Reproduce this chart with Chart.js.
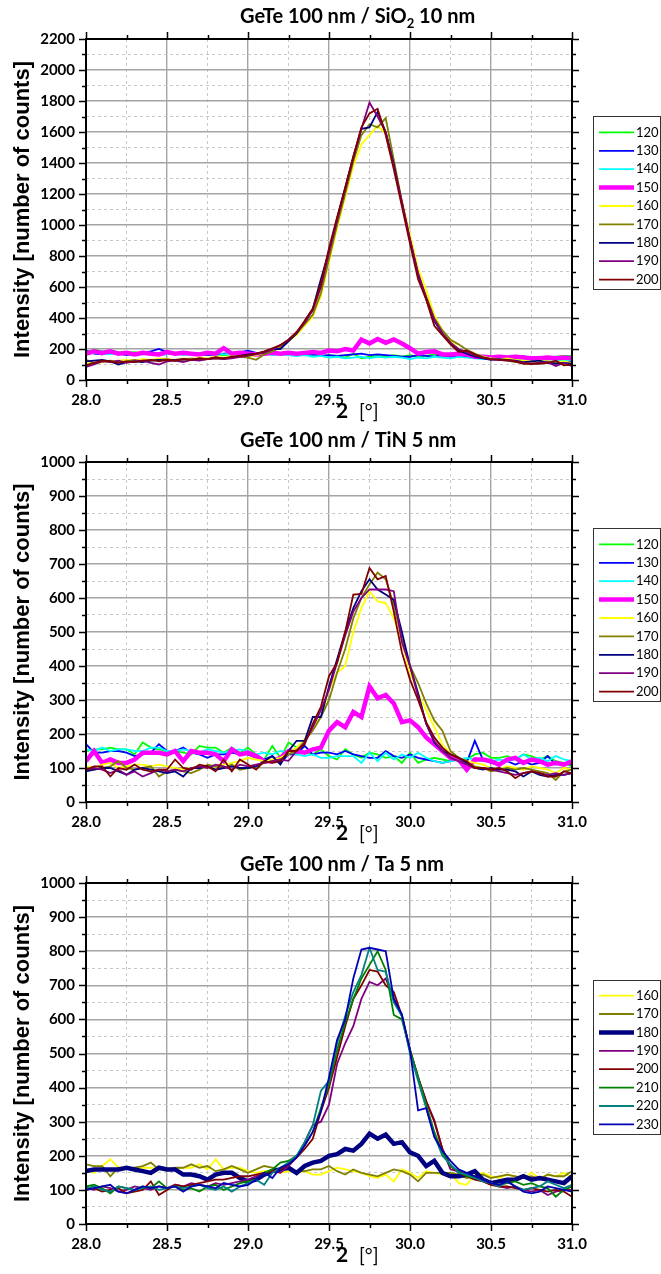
<!DOCTYPE html>
<html>
<head>
<meta charset="utf-8">
<script src="https://cdn.jsdelivr.net/npm/chart.js@4.4.1/dist/chart.umd.min.js"></script>
<style>
  body { margin: 0; background: #fff; }
  #wrap { position: relative; width: 661px; height: 1274px; overflow: hidden; }
  #wrap canvas { position: absolute; left: 0; }
</style>
</head>
<body>
<div id="wrap">
  <canvas id="c1" width="661" height="440" style="top:0px"></canvas>
  <canvas id="c2" width="661" height="440" style="top:425px"></canvas>
  <canvas id="c3" width="661" height="424" style="top:850px"></canvas>
</div>
<script>
// 2theta positions (deg)
var twoTheta = [28.00,28.05,28.10,28.15,28.20,28.25,28.30,28.35,28.40,28.45,
  28.50,28.55,28.60,28.65,28.70,28.75,28.80,28.85,28.90,28.95,
  29.00,29.05,29.10,29.15,29.20,29.25,29.30,29.35,29.40,29.45,
  29.50,29.55,29.60,29.65,29.70,29.75,29.80,29.85,29.90,29.95,
  30.00,30.05,30.10,30.15,30.20,30.25,30.30,30.35,30.40,30.45,
  30.50,30.55,30.60,30.65,30.70,30.75,30.80,30.85,30.90,30.95,
  31.00];

// --- GeTe 100 nm / SiO2 10 nm ---
var sio2Labels = ['120','130','140','150','160','170','180','190','200'];
var sio2_120 = [180,195,185,190,180,175,180,170,175,165, 170,175,165,170,165,160,165,160,165,160,
  165,160,170,175,165,170,160,165,160,155, 160,150,145,170,140,150,155,150,160,150,
  160,150,155,165,155,160,150,155,145,150, 145,150,140,145,150,145,150,145,150,155, 155];
var sio2_130 = [190,170,165,175,170,160,170,175,185,200, 180,170,175,165,170,160,165,170,175,180,
  190,175,165,170,175,170,165,160,165,155, 160,155,160,165,170,160,165,160,155,150,
  150,160,155,150,160,150,155,150,145,140, 140,135,140,130,155,130,125,120,115,125, 120];
var sio2_140 = [165,175,170,165,175,170,160,165,170,160, 165,170,160,165,170,165,175,165,170,165,
  160,165,170,160,165,160,155,160,150,155, 145,150,140,145,150,140,150,145,150,145,
  135,145,140,150,145,140,150,145,140,135, 140,135,140,135,130,135,140,135,130,125, 130];
var sio2_150 = [170,185,175,185,170,175,165,175,170,165, 180,170,175,170,165,175,170,205,170,175,
  170,165,170,175,170,175,170,175,180,175, 190,185,200,190,260,235,265,240,262,235,
  205,170,180,185,165,165,170,165,150,150, 145,150,145,150,145,140,140,145,140,145, 140];
var sio2_160 = [110,105,115,120,125,130,125,135,130,140, 135,130,140,135,145,140,150,145,150,155,
  150,160,175,190,215,250,290,350,410,540, 760,980,1180,1380,1520,1580,1640,1590,1400,1160,
  940,720,580,420,320,250,200,175,160,150, 140,135,140,130,125,120,125,120,115,120, 110];
var sio2_170 = [130,110,120,125,115,120,130,120,125,130, 135,125,130,140,130,135,140,135,145,150,
  145,130,165,185,210,255,300,360,420,560, 780,1000,1200,1410,1580,1650,1630,1690,1420,1150,
  900,680,540,400,320,260,230,195,170,150, 135,130,125,115,110,105,110,115,110,105, 100];
var sio2_180 = [120,125,130,120,100,115,120,115,125,130, 125,130,135,130,140,135,145,140,145,155,
  165,170,180,200,200,250,300,380,460,650, 830,1040,1240,1440,1620,1630,1730,1600,1390,1140,
  900,680,520,380,300,240,190,170,150,140, 130,135,130,125,115,120,125,110,105,110, 105];
var sio2_190 = [85,100,120,115,125,110,120,125,110,100, 120,125,115,130,125,135,140,135,140,150,
  155,165,175,195,225,260,305,370,450,600, 820,1030,1230,1430,1620,1790,1700,1600,1380,1150,
  910,690,530,390,300,240,200,180,160,145, 135,130,125,120,110,105,110,115,90,110, 90];
var sio2_200 = [95,110,125,120,110,120,115,125,130,120, 130,125,135,130,140,135,145,140,150,155,
  160,170,185,205,225,260,310,380,460,620, 850,1050,1240,1440,1630,1720,1750,1580,1360,1120,
  880,650,520,350,290,230,180,190,165,145, 135,130,130,120,105,105,105,110,125,95, 100];
var sio2Colors = ['#00FF00','#0000FF','#00FFFF','#FF00FF','#FFFF00','#808000','#000080','#800080','#800000'];

// --- GeTe 100 nm / TiN 5 nm ---
var tinLabels = ['120','130','140','150','160','170','180','190','200'];
var tin_120 = [150,155,155,160,155,155,140,175,160,155, 150,150,145,140,165,160,160,145,160,145,
  160,140,125,165,130,175,160,145,140,155, 135,125,155,140,130,145,140,130,135,115,
  145,115,125,130,125,120,125,125,140,145, 130,130,135,125,140,135,125,135,120,115, 105];
var tin_130 = [170,145,145,150,150,145,135,140,145,170, 150,150,160,145,140,130,140,140,145,140,
  140,130,125,135,115,140,140,165,140,145, 145,140,150,140,135,130,130,150,135,130,
  140,130,125,120,115,120,130,115,180,125, 115,110,120,110,120,110,115,135,110,115, 110];
var tin_140 = [155,150,160,150,155,155,150,150,160,160, 150,150,155,150,145,155,150,145,150,155,
  150,140,145,140,150,145,140,135,140,130, 130,135,135,135,115,145,120,145,125,140,
  130,145,130,120,115,120,125,130,125,120, 120,125,120,125,140,125,130,120,135,125, 120];
var tin_150 = [120,150,115,125,115,115,125,145,145,145, 140,150,120,150,145,145,140,120,155,140,
  145,135,120,120,130,150,150,145,155,160, 210,235,220,265,250,340,305,315,290,235,
  240,220,190,170,150,130,125,95,125,125, 120,110,125,130,115,125,120,110,115,110, 120];
var tin_160 = [105,100,110,115,100,105,110,110,105,110, 105,100,95,100,105,100,105,110,115,120,
  130,125,120,125,130,145,160,185,220,250, 330,380,400,500,570,620,590,585,540,470,
  380,320,270,220,170,140,130,120,115,110, 100,95,105,100,95,105,100,95,85,100, 95];
var tin_170 = [100,95,100,105,120,100,95,100,105,75, 90,95,90,85,95,110,105,100,110,95,
  100,105,115,120,125,140,150,180,210,250, 300,380,450,540,600,640,675,655,580,480,
  400,350,290,240,210,150,130,115,105,100, 90,95,100,95,100,95,90,85,65,90, 95];
var tin_180 = [90,95,100,100,90,80,95,100,95,90, 85,90,75,100,100,105,95,100,105,100,
  100,105,120,135,110,150,180,180,250,250, 340,420,500,570,620,655,625,610,595,500,
  400,320,230,175,150,140,130,115,100,95, 100,95,95,90,75,90,80,75,80,80, 85];
var tin_190 = [95,100,95,85,95,80,90,75,85,95, 90,95,90,100,105,100,110,105,95,110,
  105,110,115,120,125,121,150,175,220,270, 330,410,490,560,600,625,625,625,620,470,
  400,310,230,180,150,130,120,110,100,100, 95,90,85,80,85,90,85,80,85,80, 85];
var tin_200 = [95,105,105,75,100,95,110,95,90,95, 95,125,100,95,110,105,90,125,90,125,
  110,95,120,115,120,150,150,170,230,280, 370,410,500,610,612,688,655,665,560,440,
  360,300,235,190,160,140,130,120,100,100, 95,100,90,70,85,90,85,75,75,90, 85];
var tinColors = ['#00FF00','#0000FF','#00FFFF','#FF00FF','#FFFF00','#808000','#000080','#800080','#800000'];

// --- GeTe 100 nm / Ta 5 nm ---
var taLabels = ['160','170','180','190','200','210','220','230'];
var ta_160 = [160,150,170,190,165,165,160,165,165,160, 165,160,165,165,175,160,190,160,165,165,
  155,150,155,155,150,155,150,155,145,145, 155,165,160,155,150,140,135,145,125,160,
  150,135,155,150,145,150,120,115,145,150, 140,135,145,140,135,150,135,145,140,150, 135];
var ta_170 = [175,170,170,140,165,160,165,170,180,160, 160,165,165,175,165,170,155,160,170,160,
  150,160,170,165,160,160,155,155,160,160, 170,155,145,160,150,145,140,150,160,155,
  145,125,150,150,150,150,145,135,140,145, 135,140,145,140,135,140,130,145,140,140, 155];
var ta_180 = [155,160,160,160,160,165,160,155,150,165, 160,160,145,145,140,130,145,150,150,135,
  125,130,145,155,160,165,150,170,180,185, 200,205,220,215,235,265,250,262,235,240,
  210,200,170,185,150,140,140,145,155,130, 120,125,130,130,140,130,135,130,125,120, 140];
var ta_190 = [105,100,110,105,95,100,110,105,100,110, 105,115,110,120,115,110,120,115,120,125,
  130,140,150,155,150,170,195,240,290,300, 350,470,530,580,660,710,700,720,660,610,
  510,430,360,305,220,160,155,145,140,130, 120,110,105,110,100,95,100,85,95,100, 100];
var ta_200 = [100,105,95,100,105,90,95,100,125,85, 100,115,110,115,120,125,130,130,135,140,
  140,145,150,155,160,175,195,220,250,330, 400,490,580,660,700,745,740,700,680,610,
  510,430,360,300,220,170,150,140,130,125, 115,110,110,105,100,105,100,95,100,95, 80];
var ta_210 = [110,115,105,90,110,105,100,110,105,125, 105,110,100,105,95,110,115,100,110,120,
  125,130,150,160,180,185,200,230,270,340, 410,510,590,660,720,760,800,745,613,600,
  510,430,350,270,210,170,155,140,135,130, 120,115,120,125,115,120,110,105,80,100, 110];
var ta_220 = [105,110,100,95,110,105,100,105,110,100, 105,110,105,110,115,105,100,110,95,110,
  120,130,115,150,165,180,200,240,290,390, 420,530,610,680,730,810,745,740,650,610,
  500,420,340,260,200,175,150,145,135,125, 120,110,125,110,100,105,110,125,115,105, 115];
var ta_230 = [100,105,110,115,95,90,100,110,105,110, 105,110,95,110,115,110,105,120,115,110,
  115,130,150,135,165,175,195,230,270,330, 430,540,600,720,805,810,805,800,660,615,
  510,333,340,255,215,185,160,150,140,130, 120,115,125,110,95,90,95,110,105,100, 95];
var taColors = ['#FFFF00','#808000','#000080','#800080','#800000','#008000','#008080','#0000B4'];

Chart.defaults.font.family = 'Lato';
Chart.defaults.color = '#000';

function isMajor(v, step) {
  return Math.abs(v / step - Math.round(v / step)) < 1e-6;
}

// frame, outward ticks on all four sides, title, x label and boxed legend
var deco = {
  id: 'deco',
  afterDraw: function(chart, args, o) {
    var ctx = chart.ctx, a = chart.chartArea;
    var xs = chart.scales.x, ys = chart.scales.y;
    ctx.save();

    ctx.strokeStyle = '#000';
    ctx.lineWidth = 1.5;
    ctx.beginPath();
    xs.ticks.forEach(function(t) {
      var px = Math.round(xs.getPixelForValue(t.value)) + 0.5;
      var len = isMajor(t.value, 0.5) ? 7 : 4;
      ctx.moveTo(px, a.bottom); ctx.lineTo(px, a.bottom + len);
      ctx.moveTo(px, a.top); ctx.lineTo(px, a.top - len);
    });
    ys.ticks.forEach(function(t) {
      var py = Math.round(ys.getPixelForValue(t.value)) + 0.5;
      var len = isMajor(t.value, o.yMajor) ? 7 : 4;
      ctx.moveTo(a.left, py); ctx.lineTo(a.left - len, py);
      ctx.moveTo(a.right, py); ctx.lineTo(a.right + len, py);
    });
    ctx.stroke();
    ctx.lineWidth = 2;
    ctx.strokeRect(a.left, a.top, a.right - a.left, a.bottom - a.top);

    // title (with optional subscript part)
    ctx.fillStyle = '#000';
    ctx.textAlign = 'left';
    ctx.textBaseline = 'alphabetic';
    var tx = o.titleX;
    o.title.forEach(function(p) {
      ctx.font = p.sub ? 'bold 13px Lato' : 'bold 20px Lato';
      ctx.fillText(p.text, tx, o.titleY + (p.sub ? 5 : 0));
      tx += ctx.measureText(p.text).width;
    });

    // x axis label
    var by = a.bottom + 38;
    ctx.font = 'bold 21px Lato';
    ctx.fillText('2', 336, by);
    ctx.font = '19px Lato';
    ctx.fillText('[\u00B0]', 359, by);

    // legend box
    var ds = chart.data.datasets;
    var pitch = 18.4;
    var y0 = o.legendY - (ds.length - 1) * pitch / 2;
    ctx.lineWidth = 1;
    ctx.strokeStyle = '#333';
    ctx.strokeRect(593.5, Math.round(y0 - 16) + 0.5, 67, Math.round((ds.length - 1) * pitch + 25.5));
    ctx.font = '13px Lato';
    ctx.textBaseline = 'middle';
    ds.forEach(function(d, i) {
      var yy = y0 + i * pitch;
      ctx.strokeStyle = d.borderColor;
      ctx.lineWidth = d.borderWidth;
      ctx.beginPath();
      ctx.moveTo(599, yy); ctx.lineTo(634, yy);
      ctx.stroke();
      ctx.fillStyle = '#000';
      ctx.fillText(d.label, 636, yy);
    });
    ctx.restore();
  }
};

function makeChart(id, p) {
  var ctx = document.getElementById(id).getContext('2d');
  return new Chart(ctx, {
    type: 'line',
    data: {
      labels: twoTheta,
      datasets: p.series.map(function(s, i) {
        return {
          label: p.labels[i],
          data: s,
          borderColor: p.colors[i],
          borderWidth: p.labels[i] === p.thick ? 4.5 : 1.8,
          order: 100 - i
        };
      })
    },
    options: {
      responsive: false,
      animation: false,
      layout: { padding: { left: 0, right: 89, top: p.top, bottom: p.bottomPad } },
      elements: { point: { radius: 0 }, line: { tension: 0 } },
      plugins: {
        legend: { display: false },
        tooltip: { enabled: false },
        deco: { title: p.title, titleX: 240, titleY: p.titleY, legendY: p.legendY, yMajor: p.yMajor }
      },
      scales: {
        x: {
          type: 'linear',
          min: 28, max: 31,
          afterFit: function(s) { s.height = 45; },
          ticks: {
            stepSize: 0.25, autoSkip: false, maxRotation: 0, padding: 11,
            font: { size: 15, weight: 'bold' },
            callback: function(v) { return isMajor(v, 0.5) ? v.toFixed(1) : ''; }
          },
          grid: {
            drawTicks: false,
            lineWidth: function(c) { return isMajor(c.tick.value, 0.5) ? 1.4 : 1; },
            color: function(c) { return isMajor(c.tick.value, 0.5) ? '#a4a4a4' : '#c8c8c8'; }
          },
          border: { display: false, dash: function(c) { return isMajor(c.tick.value, 0.5) ? [] : [3, 3]; } }
        },
        y: {
          min: 0, max: p.yMax,
          afterFit: function(s) { s.width = 86; },
          ticks: {
            stepSize: p.yMajor / 2, autoSkip: false, padding: 11,
            font: { size: 15, weight: 'bold' },
            callback: function(v) { return isMajor(v, p.yMajor) ? String(v) : ''; }
          },
          grid: {
            drawTicks: false,
            lineWidth: function(c) { return isMajor(c.tick.value, p.yMajor) ? 1.4 : 1; },
            color: function(c) { return isMajor(c.tick.value, p.yMajor) ? '#a4a4a4' : '#c8c8c8'; }
          },
          border: { display: false, dash: function(c) { return isMajor(c.tick.value, p.yMajor) ? [] : [3, 3]; } },
          title: {
            display: true,
            text: 'Intensity [number of counts]',
            font: { family: 'Liberation Sans', size: 22, weight: 'bold' },
            padding: { top: 10, bottom: 0 }
          }
        }
      }
    },
    plugins: [deco]
  });
}

makeChart('c1', {
  labels: sio2Labels, colors: sio2Colors, thick: '150',
  series: [sio2_120, sio2_130, sio2_140, sio2_150, sio2_160, sio2_170, sio2_180, sio2_190, sio2_200],
  title: [{ text: 'GeTe 100 nm / SiO' }, { text: '2', sub: true }, { text: ' 10 nm' }],
  titleY: 23, top: 39, bottomPad: 15, yMax: 2200, yMajor: 200, legendY: 206
});
makeChart('c2', {
  labels: tinLabels, colors: tinColors, thick: '150',
  series: [tin_120, tin_130, tin_140, tin_150, tin_160, tin_170, tin_180, tin_190, tin_200],
  title: [{ text: 'GeTe 100 nm / TiN 5 nm' }],
  titleY: 22, top: 37, bottomPad: 18, yMax: 1000, yMajor: 100, legendY: 193
});
makeChart('c3', {
  labels: taLabels, colors: taColors, thick: '180',
  series: [ta_160, ta_170, ta_180, ta_190, ta_200, ta_210, ta_220, ta_230],
  title: [{ text: 'GeTe 100 nm / Ta 5 nm' }],
  titleY: 21, top: 33, bottomPad: 5, yMax: 1000, yMajor: 100, legendY: 210
});
</script>
</body>
</html>
